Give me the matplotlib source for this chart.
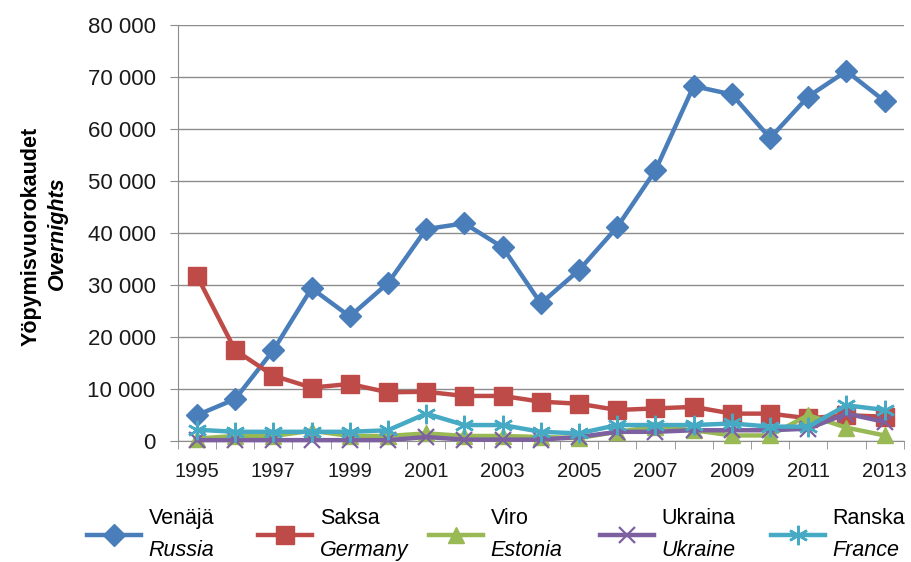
"""Yöpymisvuorokaudet maittain 1995-2013."""

import matplotlib.pyplot as plt
import numpy as np
from matplotlib.lines import Line2D
from matplotlib.ticker import FuncFormatter, FixedLocator

plt.rcParams["font.family"] = ["Liberation Sans Narrow", "Liberation Sans", "DejaVu Sans"]

years = list(range(1995, 2014))

russia = [5000, 8100, 17500, 29400, 24000, 30400, 40800, 41900, 37300, 26500,
          32900, 41200, 52100, 68300, 66700, 58300, 66300, 71200, 65400]
germany = [31800, 17500, 12600, 10300, 11000, 9400, 9500, 8700, 8700, 7600,
           7200, 6000, 6300, 6600, 5300, 5300, 4400, 5000, 4700]
estonia = [500, 1000, 1000, 2000, 1000, 1000, 1500, 1000, 1000, 800,
           600, 1800, 2800, 2100, 1100, 1100, 5000, 2600, 1100]
ukraine = [200, 200, 200, 200, 200, 200, 800, 300, 300, 300,
           800, 1800, 1800, 2100, 2100, 2100, 2400, 5300, 3700]
france = [2200, 1800, 1800, 1800, 1800, 2100, 5300, 3100, 3100, 1800,
          1500, 3100, 3100, 3100, 3400, 2800, 2800, 6900, 6000]

names_fi = ["Venäjä", "Saksa", "Viro", "Ukraina", "Ranska"]
names_en = ["Russia", "Germany", "Estonia", "Ukraine", "France"]
series = [russia, germany, estonia, ukraine, france]
colors = ["#4A7EBB", "#BE4B48", "#98B954", "#7D60A0", "#46AAC5"]
markers = ["D", "s", "^", "x", (6, 2, 0)]
msizes = [11, 13, 12, 12, 14]
medges = [1, 1, 1, 1.6, 1.8]

fig = plt.figure(figsize=(9.12, 5.62), dpi=100)
ax = fig.add_axes([0.195, 0.215, 0.796, 0.740])

for values, color, marker, ms, mew in zip(series, colors, markers, msizes, medges):
    ax.plot(years, values, color=color, linewidth=3.2, marker=marker,
            markersize=ms, markeredgewidth=mew, markeredgecolor=color,
            markerfacecolor=color, clip_on=False, zorder=3)

ax.set_ylim(0, 80000)
ax.set_xlim(years[0] - 0.5, years[-1] + 0.5)
ax.set_yticks(np.arange(0, 80001, 10000))
ax.yaxis.set_major_formatter(
    FuncFormatter(lambda v, _: f"{int(v):,}".replace(",", " ")))
ax.grid(axis="y", color="#8c8c8c", linewidth=1)
ax.set_axisbelow(True)

ax.set_xticks(years[::2])
ax.xaxis.set_minor_locator(FixedLocator([y + 0.5 for y in years[:-1]] + [years[0] - 0.5, years[-1] + 0.5]))
ax.tick_params(axis="x", which="major", length=0, pad=15, labelsize=14.5, labelcolor="#1a1a1a")
ax.tick_params(axis="x", which="minor", length=6, color="#8c8c8c", direction="out")
ax.tick_params(axis="y", length=6, color="#8c8c8c", labelsize=16, pad=10, labelcolor="#1a1a1a")

for side in ("top", "right"):
    ax.spines[side].set_visible(False)
for side in ("left", "bottom"):
    ax.spines[side].set_color("#8c8c8c")

fig.text(0.034, 0.58, "Yöpymisvuorokaudet", rotation=90, fontsize=15.5,
         fontweight="bold", ha="center", va="center")
fig.text(0.063, 0.585, "Overnights", rotation=90, fontsize=15.5,
         fontstyle="italic", fontweight="bold", ha="center", va="center")

# legend drawn by hand, two-line labels with italic English names
x0, step = 0.095, 0.1875
for i, (fi, en) in enumerate(zip(names_fi, names_en)):
    x = x0 + i * step
    fig.add_artist(Line2D([x, x + 0.06], [0.048, 0.048], transform=fig.transFigure,
                          color=colors[i], linewidth=3.2))
    fig.add_artist(Line2D([x + 0.03], [0.048], transform=fig.transFigure,
                          color=colors[i], marker=markers[i], markersize=msizes[i],
                          markeredgewidth=medges[i]))
    fig.text(x + 0.068, 0.078, fi, fontsize=15.5, ha="left", va="center")
    fig.text(x + 0.068, 0.02, en, fontsize=15.5, fontstyle="italic", ha="left", va="center")

fig.savefig("out.png", dpi=100)
